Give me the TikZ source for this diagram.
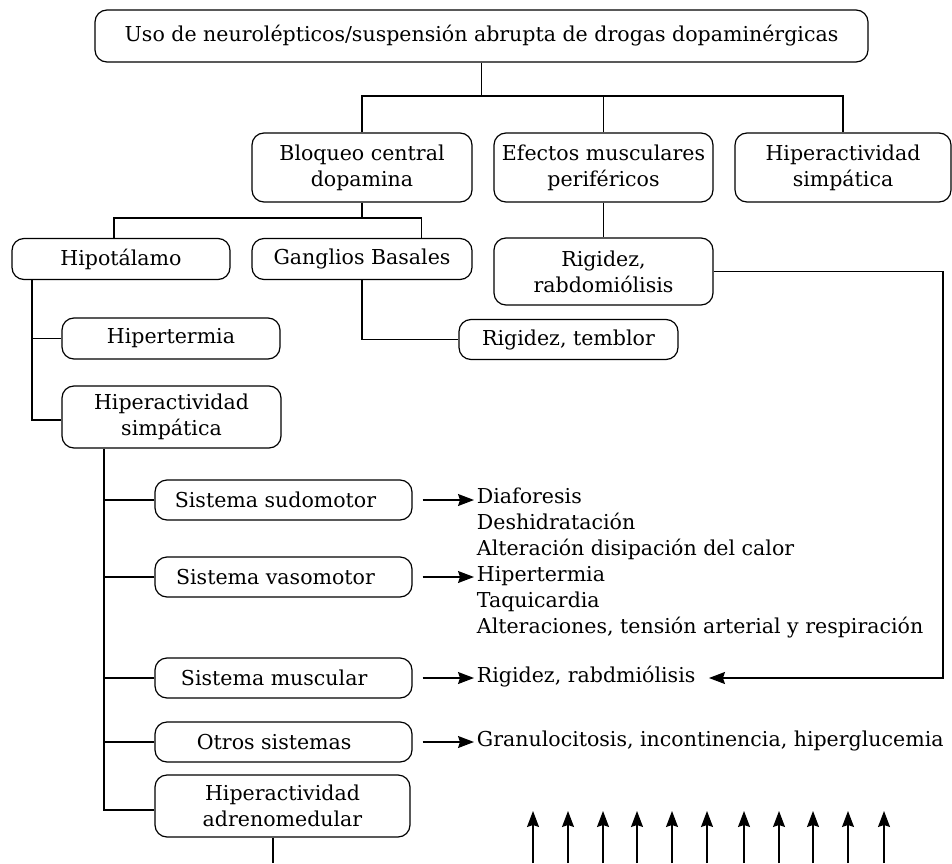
\documentclass[tikz,border=0pt]{standalone}
\usepackage{fontspec}
\setmainfont{DejaVu Serif}
\usetikzlibrary{arrows.meta}
\begin{document}
\begin{tikzpicture}[x=0.75pt,y=-0.75pt,
  every node/.style={font=\fontsize{15.4}{19.5}\selectfont},
  box/.style={draw, line width=0.9pt, rounded corners=9pt, align=center, inner sep=0pt},
  wide/.style={minimum width=192.75pt, minimum height=30pt},
  item/.style={anchor=west, inner sep=2pt, text height=11.5pt, text depth=3.5pt},
  link/.style={line width=0.9pt},
  arr/.style={line width=0.9pt, -{Stealth[length=12pt, width=9pt, inset=1.5pt]}}]
\useasboundingbox (0,0) rectangle (952,863);

% top level
\node[box, minimum width=579.75pt, minimum height=39pt] (top) at (481.5,36)
  {Uso de neurolépticos/suspensión abrupta de drogas dopaminérgicas};

% second level
\node[box, minimum width=165pt, minimum height=51.75pt] (bloq) at (362,167.5)
  {Bloqueo central\\dopamina};
\node[box, minimum width=164.25pt, minimum height=51.75pt] (efec) at (603.5,167.5)
  {Efectos musculares\\periféricos};
\node[box, minimum width=162pt, minimum height=51.75pt] (hips) at (843,167.5)
  {Hiperactividad\\simpática};

% third level
\node[box, minimum width=163.5pt, minimum height=30.75pt] (hipo) at (121,259) {Hipotálamo};
\node[box, minimum width=165pt, minimum height=30.75pt] (gang) at (362,259) {Ganglios Basales};
\node[box, minimum width=164.25pt, minimum height=50.25pt] (rrab) at (603.5,271.5)
  {Rigidez,\\rabdomiólisis};
\node[box, minimum width=164.25pt, minimum height=30pt] (rtem) at (568.5,339.5) {Rigidez, temblor};
\node[box, minimum width=163.5pt, minimum height=30.75pt] (hipt) at (171,338.5) {Hipertermia};
\node[box, minimum width=164.25pt, minimum height=46.5pt] (hsim) at (171.5,417)
  {Hiperactividad\\simpática};

% systems
\node[box, wide] (sudo) at (283.5,500) {Sistema sudomotor\hspace*{12pt}};
\node[box, wide] (vaso) at (283.5,577) {Sistema vasomotor\hspace*{12pt}};
\node[box, wide] (musc) at (283.5,678) {Sistema muscular\hspace*{14pt}};
\node[box, wide] (otro) at (283.5,742) {Otros sistemas\hspace*{14pt}};
\node[box, minimum width=191.25pt, minimum height=46.5pt] (adre) at (282.5,806)
  {Hiperactividad\\adrenomedular};

% effects
\node[item] (diaf) at (474,498) {Diaforesis};
\node[item] (desh) at (474,524) {Deshidratación};
\node[item] (alte) at (474,550) {Alteración disipación del calor};
\node[item] (hter) at (474,576) {Hipertermia};
\node[item] (taqu) at (474,602) {Taquicardia};
\node[item] (tens) at (474,628) {Alteraciones, tensión arterial y respiración};
\node[item] (rigi) at (474,677) {Rigidez, rabdmiólisis};
\node[item] (gran) at (474,741) {Granulocitosis, incontinencia, hiperglucemia};

% junction points
\coordinate (j1) at (481.5,96);
\coordinate (d1) at (114,218);
\coordinate (d2) at (421.7,218);
\coordinate (v1) at (32,0);
\coordinate (v2) at (104,0);
\coordinate (fb) at (943,0);
\coordinate (e1) at (273,863);

% tree connectors
\draw[link] (top.south) -- (j1);
\draw[link] (bloq.north) |- (j1) -| (hips.north);
\draw[link] (efec.north) -- (efec.north |- j1);
\draw[link] (bloq.south) -- (bloq.south |- d1);
\draw[link] (hipo.north -| d1) -- (d1) -- (d2) -- (gang.north -| d2);
\draw[link] (efec.south) -- (rrab.north);
\draw[link] (gang.south) |- (rtem.west);
\draw[link] (hipo.south -| v1) |- ([yshift=-2.25pt]hsim.west);
\draw[link] (hipt.west) -- (hipt.west -| v1);
\draw[link] (hsim.south -| v2) |- ([yshift=-3pt]adre.west);
\draw[link] (sudo.west) -- (sudo.west -| v2);
\draw[link] (vaso.west) -- (vaso.west -| v2);
\draw[link] (musc.west) -- (musc.west -| v2);
\draw[link] (otro.west) -- (otro.west -| v2);
\draw[link] (adre.south -| e1) -- (e1);

% arrows to effects
\draw[arr] ([xshift=7.5pt]sudo.east) -- (sudo.east -| diaf.west);
\draw[arr] ([xshift=7.5pt]vaso.east) -- (vaso.east -| hter.west);
\draw[arr] ([xshift=7.5pt]musc.east) -- (musc.east -| rigi.west);
\draw[arr] ([xshift=7.5pt]otro.east) -- (otro.east -| gran.west);

% feedback from peripheral muscle effects
\draw[arr] (rrab.east) -| (fb |- musc.east) -- ([xshift=8pt]rigi.east |- musc.east);

% row of upward arrows
\foreach \i/\x in {1/533,2/568,3/603,4/637,5/672,6/707,7/744,8/779,9/813,10/848,11/884} {
  \coordinate (u\i) at (\x,863);
  \coordinate (t\i) at (\x,811);
  \draw[arr] (u\i) -- (t\i);
}
\end{tikzpicture}
\end{document}
